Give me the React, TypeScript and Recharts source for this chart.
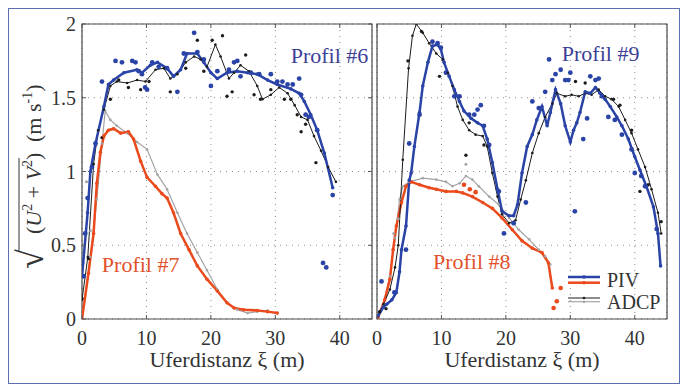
import {
  ComposedChart,
  Line,
  Scatter,
  XAxis,
  YAxis,
  CartesianGrid,
  ReferenceArea,
  ReferenceDot,
} from 'recharts';

type Pt = [number, number];

const xTicks = [0, 10, 20, 30, 40];
const yTicks = [0, 0.5, 1, 1.5, 2];

// Profil #6 (left panel, blue / black)
const p6PivLine: Pt[] = [
  [0, 0.29], [0.87, 0.72], [1.3, 1.0], [2.1, 1.19], [3.4, 1.44], [4.1, 1.59], [4.9, 1.62],
  [6.5, 1.67], [8.5, 1.69], [9.3, 1.67], [10.6, 1.72], [11.7, 1.74], [13.2, 1.7], [14.2, 1.645],
  [15.3, 1.69], [16.3, 1.8], [17.9, 1.8], [18.9, 1.74], [20, 1.67], [21, 1.63], [22.5, 1.67],
  [24.1, 1.68], [25.7, 1.67], [27.2, 1.66], [28.8, 1.62], [30.3, 1.59], [32.4, 1.56], [33.7, 1.53],
  [34.5, 1.475], [35.5, 1.385], [36.5, 1.28], [37.6, 1.125], [38.9, 0.89],
];
const p6PivDots: Pt[] = [
  [0, 0.38], [0.25, 0.29], [0.5, 0.58], [0.87, 0.82], [1.55, 1.03], [2.1, 1.19], [3.1, 1.61],
  [5.2, 1.75], [6.2, 1.74], [7.8, 1.75], [8.3, 1.74], [8.8, 1.68], [9.3, 1.66], [9.8, 1.57],
  [10.1, 1.555], [10.9, 1.74], [11.9, 1.71], [13.2, 1.7], [14.8, 1.54], [15.8, 1.8], [17.4, 1.94],
  [17.9, 1.81], [18.9, 1.76], [20, 1.58], [21, 1.68], [22.8, 1.69], [23.6, 1.74], [24.1, 1.75],
  [24.6, 1.645], [26.2, 1.67], [27.5, 1.66], [29.3, 1.66], [30.3, 1.61], [31.1, 1.61], [31.9, 1.59],
  [32.7, 1.59], [33.7, 1.63], [34, 1.52], [34.7, 1.385], [35.2, 1.37], [36.5, 1.28], [37.4, 0.38],
  [37.9, 0.35], [38.9, 0.84],
];
const p6AdcpLine: Pt[] = [
  [0, 0.13], [0.9, 0.42], [1.8, 1.05], [2.5, 1.28], [3.4, 1.42], [4.4, 1.58], [5.4, 1.61], [7, 1.6],
  [8.55, 1.62], [9.85, 1.61], [11.4, 1.69], [12.7, 1.7], [13.7, 1.63], [14.8, 1.66], [16.1, 1.74],
  [17.4, 1.78], [18.4, 1.76], [19.4, 1.71], [20.7, 1.86], [21.5, 1.78], [22.8, 1.63], [23.6, 1.67],
  [24.6, 1.72], [25.9, 1.68], [27.2, 1.58], [28, 1.49], [29.3, 1.52], [30.6, 1.57], [31.9, 1.53],
  [33, 1.45], [34, 1.37], [35, 1.35], [36, 1.24], [37.1, 1.14], [38.2, 1.03], [39.4, 0.93],
];
const p6AdcpDots: Pt[] = [
  [0, 0.14], [1, 0.41], [3.1, 1.23], [4.4, 1.49], [5.7, 1.62], [7.2, 1.57], [9.1, 1.555], [10.4, 1.61],
  [13.7, 1.54], [16.1, 1.7], [17.9, 1.89], [18.9, 1.68], [20.2, 1.89], [21.8, 1.92], [22.5, 1.51],
  [23.3, 1.54], [25.4, 1.79], [26.7, 1.52], [27.7, 1.49], [29.3, 1.555], [31.4, 1.49], [32.4, 1.49],
  [33.4, 1.385], [34, 1.27], [34.7, 1.32], [36.3, 1.06],
];

// Profil #7 (left panel, red / grey)
const p7PivLine: Pt[] = [
  [0, 0], [1, 0.31], [1.8, 0.58], [2.3, 0.92], [2.85, 1.13], [3.4, 1.24], [4.1, 1.28], [4.9, 1.29],
  [6, 1.26], [7.2, 1.27], [8, 1.22], [9.1, 1.07], [10.1, 0.96], [11.4, 0.9], [12.4, 0.85], [13.2, 0.82],
  [14.2, 0.72], [15.3, 0.58], [16.6, 0.47], [17.9, 0.36], [19.4, 0.27], [21, 0.19], [22.5, 0.11],
  [23.6, 0.075], [25.1, 0.063], [27.2, 0.058], [28.8, 0.05], [30.3, 0.04],
];
const p7AdcpLine: Pt[] = [
  [0, 0], [1.3, 0.42], [2.3, 0.81], [3.1, 1.19], [3.6, 1.41], [4.4, 1.35], [5.4, 1.31], [7, 1.26],
  [8.55, 1.2], [10.1, 1.15], [11.7, 0.98], [13.2, 0.88], [14.8, 0.72], [16.3, 0.58], [17.9, 0.45],
  [19.4, 0.33], [21, 0.2], [22.5, 0.11], [24.1, 0.063], [25.7, 0.04], [27.2, 0.05], [28.8, 0.058],
];
const p7AdcpDots: Pt[] = [[0.7, 0.93], [1.3, 0.6]];

// Profil #9 (right panel, blue / black)
const p9PivLine: Pt[] = [
  [0.15, 0.02], [1, 0.08], [1.5, 0.1], [2.3, 0.13], [3, 0.18], [3.5, 0.32], [3.8, 0.47], [4.5, 0.63],
  [5, 0.94], [5.3, 0.99], [5.8, 1.17], [6.6, 1.4], [7.1, 1.58], [7.9, 1.74], [8.6, 1.85], [9.4, 1.86],
  [9.9, 1.83], [10.4, 1.74], [11.2, 1.645], [12, 1.555], [12.8, 1.475], [13.5, 1.41], [14.6, 1.36],
  [15.6, 1.33], [16.4, 1.31], [17.1, 1.22], [17.9, 1.06], [18.7, 0.88], [19.4, 0.73], [20.5, 0.7],
  [21.2, 0.7], [21.8, 0.775], [22.5, 0.99], [23.3, 1.17], [24.1, 1.25], [24.8, 1.35], [25.6, 1.44],
  [26.4, 1.31], [26.9, 1.4], [27.7, 1.555], [28.5, 1.46], [29.2, 1.31], [30, 1.2], [30.5, 1.28],
  [31, 1.33], [31.5, 1.4], [32.3, 1.54], [33.1, 1.53], [33.9, 1.57], [34.6, 1.53], [35.4, 1.49],
  [36.2, 1.44], [37.2, 1.37], [38, 1.31], [39, 1.22], [40, 1.1], [40.8, 1.01], [41.8, 0.9],
  [42.9, 0.76], [43.6, 0.58], [44, 0.36],
];
const p9PivDots: Pt[] = [
  [0.7, 0.255], [2.7, 0.18], [4.5, 0.47], [5, 1.19], [6.6, 1.385], [8.6, 1.88], [9.4, 1.87], [9.9, 1.84],
  [10.7, 1.67], [12, 1.51], [12.8, 1.51], [14.3, 1.385], [15.1, 1.385], [15.6, 1.42], [16.1, 1.45],
  [16.6, 1.31], [17.4, 1.18], [18.9, 0.865], [19.7, 0.58], [21.2, 0.65], [23.1, 0.79], [24.1, 1.475],
  [25.1, 1.43], [26.1, 1.54], [26.7, 1.76], [27.2, 1.62], [27.7, 1.66], [28.5, 1.69], [29.2, 1.62],
  [29.7, 1.62], [30, 1.67], [30.7, 0.73], [32, 1.22], [32.6, 1.36], [33.1, 1.645], [33.9, 1.62],
  [34.4, 1.63], [34.9, 1.51], [35.9, 1.37], [36.9, 1.35], [38, 1.25], [39.5, 1.15], [40, 0.99],
  [41, 0.97], [41.6, 0.9], [43.4, 0.61],
];
const p9AdcpLine: Pt[] = [
  [0, 0.02], [1, 0.1], [2, 0.2], [2.8, 0.35], [3.3, 0.5], [4, 1.08], [4.9, 1.7], [5.5, 1.92], [6.1, 2.0],
  [7.1, 1.94], [8.1, 1.87], [9.2, 1.8], [10.2, 1.76], [11, 1.67], [11.7, 1.58], [12.5, 1.44],
  [13.3, 1.35], [14.3, 1.28], [15.3, 1.25], [16.4, 1.24], [17.1, 1.17], [17.9, 0.99], [18.7, 0.83],
  [19.4, 0.71], [20.5, 0.65], [21.5, 0.67], [22.3, 0.81], [23.1, 0.94], [24.1, 1.125], [25.1, 1.26],
  [26.1, 1.37], [27.2, 1.46], [27.9, 1.53], [29.2, 1.51], [30.2, 1.52], [31.3, 1.51], [32.3, 1.53],
  [33.3, 1.52], [34.4, 1.555], [35.4, 1.51], [36.4, 1.49], [37.5, 1.44], [38.5, 1.35], [39.5, 1.26],
  [40.5, 1.15], [41.6, 1.03], [42.6, 0.88], [43.6, 0.72], [44.1, 0.58],
];
const p9AdcpDots: Pt[] = [
  [0.4, 0.05], [1.4, 0.07], [4.8, 1.75], [6.9, 1.95], [9.7, 1.645], [13.8, 1.11], [14.3, 1.33],
  [16.6, 1.18], [30.8, 1.61], [32.3, 1.6], [34.4, 1.63], [36.7, 1.49], [37.7, 1.45], [39.5, 1.28],
  [40.8, 0.865], [42.1, 0.91], [44.1, 0.66],
];

// Profil #8 (right panel, red / grey)
const p8PivLine: Pt[] = [
  [0.15, 0.01], [1.2, 0.13], [2, 0.27], [2.5, 0.47], [3, 0.63], [3.8, 0.79], [4.5, 0.9], [5.3, 0.93],
  [6.6, 0.91], [8.1, 0.89], [9.2, 0.88], [10.7, 0.865], [12.3, 0.865], [13.3, 0.855], [14.8, 0.83],
  [16.4, 0.79], [17.9, 0.75], [19.4, 0.685], [21, 0.605], [22.5, 0.53], [24.1, 0.48], [25.6, 0.45],
  [26.6, 0.38], [27.2, 0.21],
];
const p8PivDots: Pt[] = [[13.5, 0.91], [14.4, 0.88], [15.3, 0.86], [27.4, 0.075], [27.9, 0.12], [28.5, 0.21]];
const p8AdcpLine: Pt[] = [
  [0, 0.02], [0.9, 0.085], [2, 0.29], [2.8, 0.55], [3.5, 0.81], [4, 0.9], [5, 0.93], [7.1, 0.955],
  [9.2, 0.945], [10.7, 0.93], [11.7, 0.9], [12.8, 0.92], [13.8, 0.97], [14.8, 0.945], [15.8, 0.9],
  [17.4, 0.83], [18.9, 0.775], [20.5, 0.685], [22, 0.605], [23.6, 0.54], [25.1, 0.47], [26.1, 0.425],
  [26.9, 0.37],
];
const p8AdcpDots: Pt[] = [[13.8, 1.05], [2.6, 0.58], [3.3, 0.68]];

const BLUE = '#2a43a6';
const BLACK = '#1c1c1c';
const RED = '#ea4a1c';
const GREY = '#a4a4a4';
const TEXT = '#333';
const FONT = 'Liberation Serif';
const serif = { fontFamily: FONT };

const PLOT_H = 295;

const pts = (arr: Pt[]) => arr.map(([x, y]) => ({ x, y }));

function XTick(props: any) {
  const { x, y, payload } = props;
  const axisY = y - 6;
  return (
    <g>
      <line x1={x} x2={x} y1={axisY} y2={axisY - 4} stroke="#555" />
      <line x1={x} x2={x} y1={axisY - PLOT_H} y2={axisY - PLOT_H + 4} stroke="#555" />
      <text x={x} y={y + 20} textAnchor="middle" fontSize={20} style={serif} fill={TEXT}>
        {payload.value}
      </text>
    </g>
  );
}

function YTick(props: any) {
  const { x, y, payload, plotW, showText } = props;
  const axisX = x + 6;
  return (
    <g>
      <line x1={axisX} x2={axisX + 4} y1={y} y2={y} stroke="#555" />
      <line x1={axisX + plotW} x2={axisX + plotW - 4} y1={y} y2={y} stroke="#555" />
      {showText && (
        <text x={x} y={y} dy="0.35em" textAnchor="end" fontSize={20} style={serif} fill={TEXT}>
          {payload.value}
        </text>
      )}
    </g>
  );
}

function XLabel(props: any) {
  const { viewBox } = props;
  const cx = viewBox.x + viewBox.width / 2;
  return (
    <text x={cx} y={367} textAnchor="middle" fontSize={22} style={serif} fill={TEXT}>
      Uferdistanz ξ (m)
    </text>
  );
}

function YLabel() {
  return (
    <g transform="translate(41,174) rotate(-90)" style={serif} fill={TEXT}>
      <text x={-95} y={2} fontSize={36}>√</text>
      <line x1={-77} x2={16} y1={-22} y2={-22} stroke={TEXT} strokeWidth={1} />
      <text x={-60} y={0} fontSize={22}>
        <tspan>(</tspan>
        <tspan fontStyle="italic">U</tspan>
        <tspan fontSize={14} dy={-9}>2</tspan>
        <tspan dy={9}> + </tspan>
        <tspan fontStyle="italic">V</tspan>
        <tspan fontSize={14} dy={-9}>2</tspan>
        <tspan dy={9}>)</tspan>
      </text>
      <text x={32} y={0} fontSize={22}>
        <tspan>(m s</tspan>
        <tspan fontSize={14} dy={-9}>-1</tspan>
        <tspan dy={9}>)</tspan>
      </text>
    </g>
  );
}

interface Series {
  line: Pt[];
  dots: Pt[];
  color: string;
  width: number;
  dotR: number;
}

interface PanelProps {
  left: number;
  width: number;
  marginLeft: number;
  marginRight: number;
  yAxisWidth: number;
  showYText: boolean;
  series: Series[];
  labels: { x: number; y: number; text: string; color: string }[];
}

function Panel({ left, width, marginLeft, marginRight, yAxisWidth, showYText, series, labels }: PanelProps) {
  const plotW = width - marginLeft - marginRight - yAxisWidth;
  return (
    <div style={{ position: 'absolute', left, top: 0 }}>
      <ComposedChart
        width={width}
        height={385}
        margin={{ top: 24, right: marginRight, bottom: 36, left: marginLeft }}
      >
        <CartesianGrid stroke="#8a8a8a" strokeDasharray="1 5" />
        <XAxis
          type="number"
          dataKey="x"
          domain={[0, 45]}
          ticks={xTicks}
          allowDataOverflow
          axisLine={false}
          tickLine={false}
          tickSize={0}
          tickMargin={6}
          height={30}
          tick={<XTick />}
          label={{ content: (p: any) => <XLabel {...p} /> }}
        />
        <YAxis
          type="number"
          dataKey="y"
          domain={[0, 2]}
          ticks={yTicks}
          allowDataOverflow
          axisLine={false}
          tickLine={false}
          tickSize={0}
          tickMargin={6}
          width={yAxisWidth}
          tick={<YTick plotW={plotW} showText={showYText} />}
          label={showYText ? { content: () => <YLabel /> } : undefined}
        />
        <ReferenceArea x1={0} x2={45} y1={0} y2={2} fill="none" stroke="#4a4a4a" strokeWidth={1.2} />
        {series.map((s, i) => (
          <Scatter
            key={`d${i}`}
            data={pts(s.dots)}
            dataKey="y"
            isAnimationActive={false}
            shape={(p: any) => <circle cx={p.cx} cy={p.cy} r={s.dotR} fill={s.color} />}
          />
        ))}
        {series.map((s, i) => (
          <Line
            key={`l${i}`}
            data={pts(s.line)}
            dataKey="y"
            type="linear"
            stroke={s.color}
            strokeWidth={s.width}
            dot={{ r: s.width > 1.5 ? 1.8 : 1.3, fill: s.color, stroke: 'none' }}
            activeDot={false}
            isAnimationActive={false}
          />
        ))}
        {labels.map((l) => (
          <ReferenceDot
            key={l.text}
            x={l.x}
            y={l.y}
            r={1}
            fill="none"
            stroke="none"
            label={{ value: l.text, position: 'center', fill: l.color, fontSize: 22, style: serif }}
          />
        ))}
      </ComposedChart>
    </div>
  );
}

function LegendBox() {
  return (
    <svg width={110} height={50} style={{ position: 'absolute', left: 564, top: 266 }}>
      <line x1={4} x2={36} y1={11} y2={11} stroke={BLUE} strokeWidth={2.5} />
      <circle cx={20} cy={11} r={1.8} fill={BLUE} />
      <line x1={4} x2={36} y1={16.7} y2={16.7} stroke={RED} strokeWidth={2.5} />
      <circle cx={20} cy={16.7} r={1.8} fill={RED} />
      <line x1={4} x2={36} y1={32} y2={32} stroke={BLACK} strokeWidth={1} />
      <circle cx={20} cy={32} r={1.3} fill={BLACK} />
      <line x1={4} x2={36} y1={35.7} y2={35.7} stroke={GREY} strokeWidth={1.2} />
      <circle cx={20} cy={35.7} r={1.3} fill={GREY} />
      <text x={43} y={21} fontSize={20} style={serif} fill={TEXT}>PIV</text>
      <text x={43} y={43} fontSize={20} style={serif} fill={TEXT}>ADCP</text>
    </svg>
  );
}

export default function App() {
  return (
    <div style={{ position: 'absolute', left: 0, top: 0, width: 682, height: 385, background: '#fff' }}>
      <div
        style={{
          position: 'absolute',
          left: 8,
          top: 8,
          width: 670,
          height: 374,
          border: '1px solid #5d6fb2',
        }}
      />
      <Panel
        left={0}
        width={380}
        marginLeft={42}
        marginRight={8}
        yAxisWidth={40}
        showYText
        series={[
          { line: p7AdcpLine, dots: p7AdcpDots, color: GREY, width: 1.2, dotR: 1.5 },
          { line: p7PivLine, dots: [], color: RED, width: 2.5, dotR: 2.3 },
          { line: p6AdcpLine, dots: p6AdcpDots, color: BLACK, width: 1, dotR: 1.7 },
          { line: p6PivLine, dots: p6PivDots, color: BLUE, width: 2.5, dotR: 2.4 },
        ]}
        labels={[
          { x: 38.4, y: 1.79, text: 'Profil #6', color: '#3c3f96' },
          { x: 9.1, y: 0.37, text: 'Profil #7', color: '#e2512a' },
        ]}
      />
      <Panel
        left={340}
        width={342}
        marginLeft={37}
        marginRight={15}
        yAxisWidth={0}
        showYText={false}
        series={[
          { line: p8AdcpLine, dots: p8AdcpDots, color: GREY, width: 1.2, dotR: 1.5 },
          { line: p8PivLine, dots: p8PivDots, color: RED, width: 2.5, dotR: 2.3 },
          { line: p9AdcpLine, dots: p9AdcpDots, color: BLACK, width: 1, dotR: 1.7 },
          { line: p9PivLine, dots: p9PivDots, color: BLUE, width: 2.5, dotR: 2.4 },
        ]}
        labels={[
          { x: 34.7, y: 1.8, text: 'Profil #9', color: '#3c3f96' },
          { x: 14.7, y: 0.39, text: 'Profil #8', color: '#e2512a' },
        ]}
      />
      <LegendBox />
    </div>
  );
}
